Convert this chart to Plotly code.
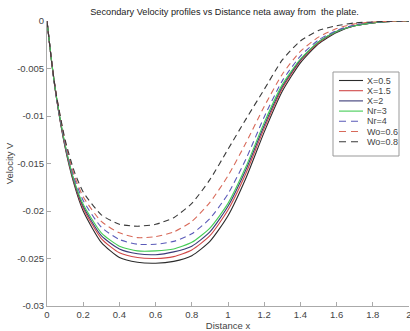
import plotly.graph_objects as go

x = [0, 0.025, 0.05, 0.1, 0.15, 0.2, 0.3, 0.4, 0.5, 0.6, 0.7, 0.8, 0.9, 1.0,
     1.1, 1.2, 1.3, 1.4, 1.5, 1.6, 1.7, 1.8, 1.9, 2.0]

v_X05 = [0, -0.0042, -0.0078, -0.0133, -0.0172, -0.0200, -0.0233, -0.0249, -0.0254, -0.0255,
         -0.0253, -0.0247, -0.0232, -0.0205, -0.0165, -0.0117, -0.0074, -0.0044, -0.0024,
         -0.0012, -0.0005, -0.0002, -0.00005, 0]
v_X15 = [0, -0.0042, -0.0078, -0.0132, -0.0170, -0.0197, -0.0229, -0.0244, -0.0249, -0.0250,
         -0.0248, -0.0241, -0.0226, -0.0199, -0.0160, -0.0113, -0.0071, -0.0042, -0.0023,
         -0.0011, -0.0005, -0.0002, -0.00005, 0]
v_X2 = [0, -0.0042, -0.0078, -0.0131, -0.0169, -0.0195, -0.0226, -0.0240, -0.0245, -0.0246,
        -0.0243, -0.0237, -0.0222, -0.0195, -0.0156, -0.0110, -0.0069, -0.0041, -0.0022,
        -0.0011, -0.0005, -0.0002, -0.00005, 0]
v_Nr3 = [0, -0.0042, -0.0077, -0.0130, -0.0168, -0.0193, -0.0223, -0.0237, -0.0242, -0.0242,
         -0.0240, -0.0233, -0.0218, -0.0192, -0.0153, -0.0107, -0.0067, -0.0040, -0.0022,
         -0.0011, -0.0005, -0.0002, -0.00005, 0]
v_Nr4 = [0, -0.0042, -0.0077, -0.0129, -0.0165, -0.0189, -0.0217, -0.0230, -0.0235, -0.0235,
         -0.0232, -0.0224, -0.0208, -0.0182, -0.0145, -0.0101, -0.0063, -0.0037, -0.0020,
         -0.0010, -0.0004, -0.00015, -0.00004, 0]
v_Wo06 = [0, -0.0042, -0.0076, -0.0127, -0.0162, -0.0185, -0.0211, -0.0223, -0.0228, -0.0227,
          -0.0222, -0.0211, -0.0191, -0.0163, -0.0128, -0.0090, -0.0056, -0.0032, -0.0017,
          -0.0008, -0.0003, -0.0001, -0.00003, 0]
v_Wo08 = [0, -0.0042, -0.0076, -0.0125, -0.0158, -0.0180, -0.0204, -0.0214, -0.0216, -0.0214,
          -0.0207, -0.0192, -0.0167, -0.0135, -0.0103, -0.0072, -0.0041, -0.0021, -0.0010,
          -0.0005, -0.0002, -0.0001, -0.00002, 0]

names = ["X=0.5", "X=1.5", "X=2", "Nr=3", "Nr=4", "Wo=0.6", "Wo=0.8"]
series = [v_X05, v_X15, v_X2, v_Nr3, v_Nr4, v_Wo06, v_Wo08]
colors = ["#2b2b2b", "#d04848", "#3a3a78", "#44cc55", "#5a5ab8", "#d86a5a", "#3a3a3a"]
dashes = ["solid", "solid", "solid", "solid", "6px,4px", "6px,4px", "6px,4px"]

x_ticks = [0, 0.2, 0.4, 0.6, 0.8, 1, 1.2, 1.4, 1.6, 1.8, 2]
x_tick_labels = ["0", "0.2", "0.4", "0.6", "0.8", "1", "1.2", "1.4", "1.6", "1.8", "2"]
y_ticks = [0, -0.005, -0.01, -0.015, -0.02, -0.025, -0.03]
y_tick_labels = ["0", "-0.005", "-0.01", "-0.015", "-0.02", "-0.025", "-0.03"]

W, H = 410, 331
ML, MR, MT, MB = 47, 1, 21, 25
PW, PH = W - ML - MR, H - MT - MB


def px_x(p):
    return (p - ML) / PW


def px_y(p):
    return (H - MB - p) / PH


fig = go.Figure()
for name, vals, c, d in zip(names, series, colors, dashes):
    fig.add_trace(go.Scatter(x=x, y=vals, mode="lines", name=name, showlegend=False,
                             line=dict(color=c, width=1.1, dash=d, shape="spline", smoothing=0.6)))

# manual legend (compact, like the MATLAB legend box)
shapes = [dict(type="rect", xref="paper", yref="paper",
               x0=px_x(333), x1=px_x(399), y0=px_y(156), y1=px_y(72),
               line=dict(color="#999999", width=1), fillcolor="white", layer="above")]
annotations = []
for i, (name, c, d) in enumerate(zip(names, colors, dashes)):
    py = 80.5 + i * 10.2
    ld = "solid" if d == "solid" else "7px,5px"
    shapes.append(dict(type="line", xref="paper", yref="paper",
                       x0=px_x(339), x1=px_x(363), y0=px_y(py), y1=px_y(py),
                       line=dict(color=c, width=1.1, dash=ld), layer="above"))
    annotations.append(dict(text=name, xref="paper", yref="paper", x=px_x(364.5), y=px_y(py),
                            xanchor="left", yanchor="middle", showarrow=False,
                            font=dict(size=9, color="#444444")))

font = "Liberation Sans, Arial, sans-serif"
fig.update_layout(
    width=W, height=H,
    margin=dict(l=ML, r=MR, t=MT, b=MB, autoexpand=False),
    paper_bgcolor="white", plot_bgcolor="white",
    font=dict(family=font, size=10, color="#333333"),
    title=dict(text="Secondary Velocity profiles vs Distance neta away from  the plate.",
               x=224.5 / W, xanchor="center", y=1 - 12 / H, yanchor="middle",
               font=dict(size=9.2, color="#222222")),
    showlegend=False,
    shapes=shapes,
    annotations=annotations,
    xaxis=dict(range=[0, 2], tickvals=x_ticks, ticktext=x_tick_labels,
               showgrid=False, zeroline=False, showline=True, linecolor="#aaaaaa",
               ticks="inside", ticklen=4, tickcolor="#aaaaaa", ticklabeloverflow="allow",
               tickfont=dict(size=9.5, color="#444444"), automargin=False,
               title=dict(text="Distance x", standoff=0, font=dict(size=9.5, color="#444444"))),
    yaxis=dict(range=[-0.03, 0], tickvals=y_ticks, ticktext=y_tick_labels,
               showgrid=False, zeroline=False, showline=True, linecolor="#aaaaaa",
               ticks="inside", ticklen=4, tickcolor="#aaaaaa",
               tickfont=dict(size=9.5, color="#444444"), automargin=False,
               title=dict(text="Velocity V", standoff=1, font=dict(size=9.5, color="#444444"))),
)

fig.write_html("out.html", config={"displayModeBar": False},
               post_script="document.body.style.margin='0';document.body.style.padding='0';")
